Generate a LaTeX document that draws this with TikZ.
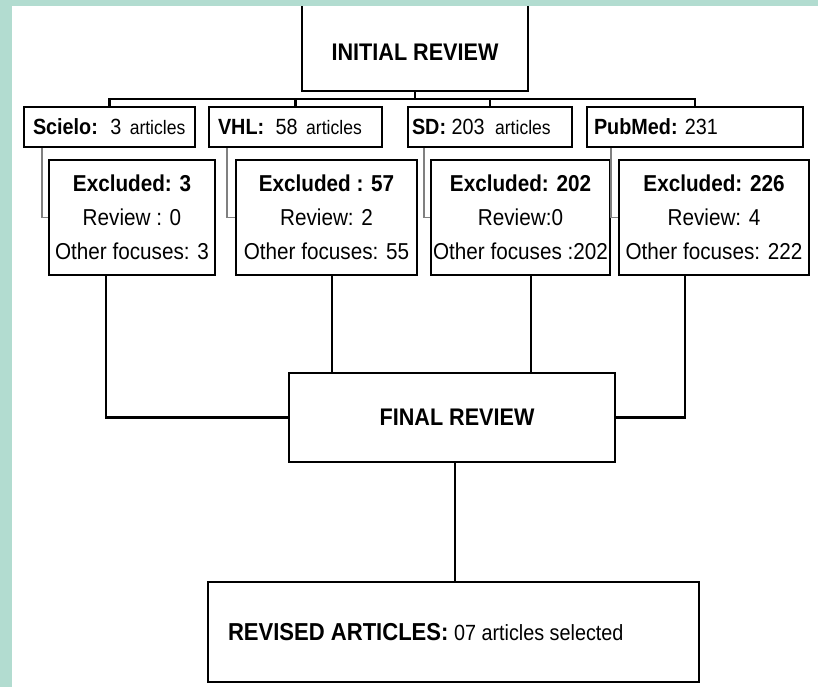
\documentclass[tikz,border=0pt]{standalone}
\usepackage{fontspec}
\setmainfont{Liberation Sans}[FakeStretch=0.9]
\definecolor{tealstrip}{RGB}{178,220,208}
\newcommand{\artw}{{\fontsize{19.5}{22}\selectfont articles}}
\begin{document}
\begin{tikzpicture}[x=1pt,y=-1pt,
  box/.style={draw, line width=2.2pt, inner sep=0pt, rectangle},
  hdr/.style={box, minimum height=40pt, font=\fontsize{22}{26}\selectfont},
  exbox/.style={box, minimum height=115pt, align=center, font=\fontsize{23}{34}\selectfont},
  link/.style={line width=2.2pt},
  side/.style={line width=1.5pt, draw=gray}]
\useasboundingbox (0,0) rectangle (818,687);
\fill[white] (0,0) rectangle (818,687);

% top box
\node[box, minimum width=226pt, minimum height=97pt, font=\fontsize{24}{28}\selectfont\bfseries] (init) at (415,42.5) {\rule{0pt}{36pt}INITIAL REVIEW};

% database boxes
\node[hdr, minimum width=171pt] (scielo) at (109.5,127) {\makebox[171pt][l]{\hspace{9pt}\textbf{Scielo:} \hspace{5pt}3 \hspace{3pt}\artw}};
\node[hdr, minimum width=173pt] (vhl) at (295.5,127) {\makebox[173pt][l]{\hspace{9pt}\textbf{VHL:} \hspace{6pt}58 \hspace{3pt}\artw}};
\node[hdr, minimum width=164pt] (sd) at (490,127) {\makebox[164pt][l]{\hspace{4pt}\textbf{SD:} 203 \hspace{5pt}\artw}};
\node[hdr, minimum width=216pt] (pubmed) at (695,127) {\makebox[216pt][l]{\hspace{7pt}\textbf{PubMed:} 231}};

% excluded boxes
\node[exbox, minimum width=166pt] (ex1) at (132,217.5) {\textbf{Excluded: 3}\\Review : 0\\Other focuses: 3};
\node[exbox, minimum width=181pt] (ex2) at (326.5,217.5) {\textbf{Excluded : 57}\\Review: 2\\Other focuses: 55};
\node[exbox, minimum width=179pt] (ex3) at (520.5,217.5) {\textbf{Excluded: 202}\\Review:0\\Other focuses :202};
\node[exbox, minimum width=190pt] (ex4) at (714,217.5) {\textbf{Excluded: 226}\\Review: 4\\Other focuses: 222};

% final and revised
\node[box, minimum width=326pt, minimum height=89pt, font=\fontsize{24}{28}\selectfont\bfseries] (final) at (452,417.5) {\hspace{10pt}FINAL REVIEW};
\node[box, minimum width=491pt, minimum height=100pt] (revised) at (453.5,632) {\makebox[491pt][l]{\hspace{20pt}{\fontsize{24.5}{28}\selectfont\bfseries REVISED ARTICLES:} \hspace{3pt}{\fontsize{22}{26}\selectfont 07 articles selected}}};

% bus from initial review
\coordinate (bus) at (415,99);
\draw[link] (init.south) -- (bus);
\draw[link] (scielo.north) |- (bus) -| (pubmed.north);
\draw[link] (vhl.north) -- (vhl.north |- bus);
\draw[link] (sd.north) -- (sd.north |- bus);

% side connectors
\draw[side] ([xshift=19pt]scielo.south west) |- (ex1.west);
\draw[side] ([xshift=19pt]vhl.south west) |- (ex2.west);
\draw[side] ([xshift=17pt]sd.south west) |- (ex3.west);
\draw[side] ([xshift=25pt]pubmed.south west) |- (ex4.west);

% to final review
\coordinate (d1) at ([xshift=58pt]ex1.south west);
\coordinate (d2) at ([xshift=97pt]ex2.south west);
\coordinate (d3) at ([xshift=101pt]ex3.south west);
\coordinate (d4) at ([xshift=67pt]ex4.south west);
\draw[link] (d1) |- (final.west);
\draw[link] (d2) -- (d2 |- final.north);
\draw[link] (d3) -- (d3 |- final.north);
\draw[link] (d4) |- (final.east);
\coordinate (f1) at ([xshift=3pt]final.south);
\draw[link] (f1) -- (f1 |- revised.north);

% frame strips
\fill[tealstrip] (0,0) rectangle (12,687);
\fill[tealstrip] (0,0) rectangle (818,6);
\end{tikzpicture}
\end{document}
